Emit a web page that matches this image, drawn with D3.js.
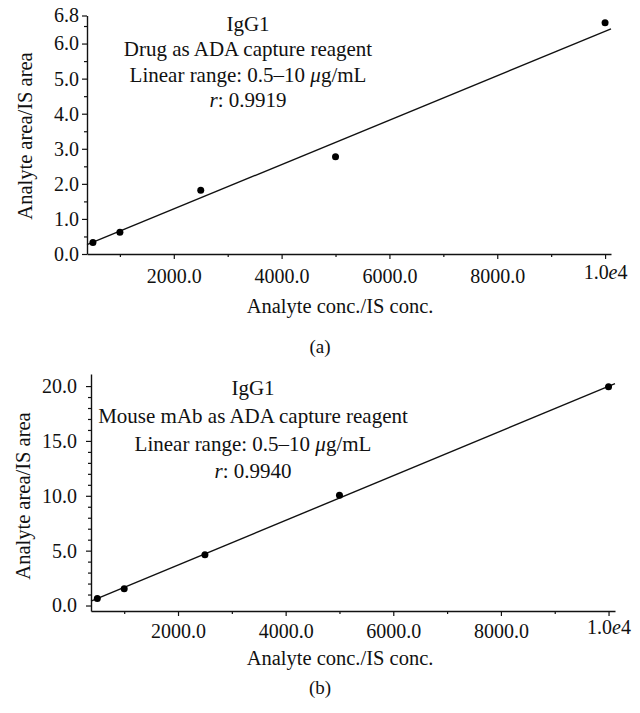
<!DOCTYPE html>
<html>
<head>
<meta charset="utf-8">
<script src="https://cdn.jsdelivr.net/npm/d3@7"></script>
<style>
  html, body { margin: 0; padding: 0; background: #fff; }
  svg text { font-family: "Liberation Serif", "Times New Roman", serif; fill: #111; }
</style>
</head>
<body>
<svg id="chart" width="640" height="713"></svg>
<script>
// ---- data ----
const concA = [500, 1000, 2500, 5000, 10000];
const ratioA = [0.33, 0.62, 1.82, 2.77, 6.59];
const fitA = [0.018, 6.33e-4];          // intercept, slope
const concB = [500, 1000, 2500, 5000, 10000];
const ratioB = [0.64, 1.52, 4.63, 10.05, 19.94];
const fitB = [-0.38, 2.035e-3];         // intercept, slope

const xTicks = [2000, 4000, 6000, 8000, 10000];
const xTickLabels = ["2000.0", "4000.0", "6000.0", "8000.0", "1.0e4"];
const xMinorTicks = [1000, 3000, 5000, 7000, 9000];
const yTicksA = [0, 1, 2, 3, 4, 5, 6, 6.8];
const yTickLabelsA = ["0.0", "1.0", "2.0", "3.0", "4.0", "5.0", "6.0", "6.8"];
const yMinorA = [0.5, 1.5, 2.5, 3.5, 4.5, 5.5, 6.5];
const yTicksB = [0, 5, 10, 15, 20];
const yTickLabelsB = ["0.0", "5.0", "10.0", "15.0", "20.0"];
const yMinorB = [1,2,3,4,6,7,8,9,11,12,13,14,16,17,18,19];

const notesA = ["IgG1", "Drug as ADA capture reagent", "Linear range: 0.5\u201310 \u03bcg/mL", "r: 0.9919"];
const notesB = ["IgG1", "Mouse mAb as ADA capture reagent", "Linear range: 0.5\u201310 \u03bcg/mL", "r: 0.9940"];
const xTitle = "Analyte conc./IS conc.";
const yTitle = "Analyte area/IS area";
const panelLabels = ["(a)", "(b)"];

const svg = d3.select("#chart");

function panel(cfg) {
  const g = svg.append("g");
  const x = d3.scaleLinear().domain(cfg.xDomain).range(cfg.xRange);
  const y = d3.scaleLinear().domain(cfg.yDomain).range(cfg.yRange);
  const axisY = cfg.yRange[0];

  // minor ticks
  g.append("g").attr("transform", `translate(0,${axisY})`)
    .call(d3.axisBottom(x).tickValues(xMinorTicks).tickSize(3).tickFormat(""))
    .call(s => s.select(".domain").remove());
  g.append("g").attr("transform", `translate(${cfg.xRange[0]},0)`)
    .call(d3.axisLeft(y).tickValues(cfg.yMinor).tickSize(3).tickFormat(""))
    .call(s => s.select(".domain").remove());

  // major axes
  const xa = g.append("g").attr("transform", `translate(0,${axisY})`)
    .call(d3.axisBottom(x).tickValues(xTicks).tickSize(5).tickSizeOuter(0).tickPadding(cfg.xPad)
      .tickFormat((d, i) => xTickLabels[i]));
  const ya = g.append("g").attr("transform", `translate(${cfg.xRange[0]},0)`)
    .call(d3.axisLeft(y).tickValues(cfg.yTicks).tickSize(5).tickSizeOuter(0).tickPadding(cfg.yPad)
      .tickFormat((d, i) => cfg.yLabels[i]));
  [xa, ya].forEach(a => {
    a.attr("font-family", null);
    a.selectAll("text").style("font-size", "20px").style("font-family", '"Liberation Serif", serif').attr("fill", "#111");
    a.selectAll("line").attr("stroke", "#111").attr("stroke-width", 1.2);
    a.select(".domain").attr("stroke", "#111").attr("stroke-width", 1.4);
  });
  g.selectAll(".tick line").attr("stroke", "#111").attr("stroke-width", 1.2);
  // italic e in 1.0e4
  xa.selectAll(".tick text").filter(d => d === 10000).each(function () {
    const t = d3.select(this);
    t.text("");
    t.append("tspan").text("1.0");
    t.append("tspan").style("font-style", "italic").text("e");
    t.append("tspan").text("4");
    t.attr("dy", "0.5em");
  });

  // fit line across the x domain
  const xd = x.domain();
  const lineData = xd.map(v => [v, cfg.fit[0] + cfg.fit[1] * v]);
  g.append("path")
    .attr("d", d3.line().x(d => x(d[0])).y(d => y(d[1]))(lineData))
    .attr("fill", "none").attr("stroke", "#111").attr("stroke-width", 1.4);

  // points
  g.selectAll("circle.pt").data(cfg.xs.map((v, i) => [v, cfg.ys[i]])).enter()
    .append("circle").attr("class", "pt")
    .attr("cx", d => x(d[0])).attr("cy", d => y(d[1])).attr("r", 3.5).attr("fill", "#000");

  // annotations
  cfg.notes.forEach((n, i) => {
    const t = g.append("text").attr("x", cfg.noteX).attr("y", cfg.noteY[i])
      .attr("text-anchor", "middle").style("font-size", "21px");
    if (i === 2) {
      t.append("tspan").text("Linear range: 0.5\u201310 ");
      t.append("tspan").style("font-style", "italic").text("\u03bc");
      t.append("tspan").text("g/mL");
    } else if (i === 3) {
      t.append("tspan").style("font-style", "italic").text("r");
      t.append("tspan").text(n.slice(1));
    } else {
      t.text(n);
    }
  });

  // axis titles
  g.append("text").attr("x", cfg.xTitlePos[0]).attr("y", cfg.xTitlePos[1])
    .attr("text-anchor", "middle").style("font-size", "20.5px").text(xTitle);
  g.append("text").attr("transform", `translate(${cfg.yTitlePos[0]},${cfg.yTitlePos[1]}) rotate(-90)`)
    .attr("text-anchor", "middle").attr("dominant-baseline", "central").style("font-size", "20.5px").text(yTitle);
  g.append("text").attr("x", cfg.labelPos[0]).attr("y", cfg.labelPos[1])
    .attr("text-anchor", "middle").style("font-size", "19px").text(cfg.label);
}

panel({
  xs: concA, ys: ratioA, fit: fitA,
  xDomain: [390, 10110], xRange: [87, 611],
  yDomain: [0, 6.8], yRange: [254, 15.5],
  yTicks: yTicksA, yLabels: yTickLabelsA, yMinor: yMinorA, xPad: 10, yPad: 3,
  notes: notesA, noteX: 248, noteY: [31, 56, 82, 107],
  xTitlePos: [340, 313], yTitlePos: [25, 136], labelPos: [320, 353], label: panelLabels[0]
});

panel({
  xs: concB, ys: ratioB, fit: fitB,
  xDomain: [383, 10120], xRange: [91, 615],
  yDomain: [-0.5, 21.1], yRange: [611, 374],
  yTicks: yTicksB, yLabels: yTickLabelsB, yMinor: yMinorB, xPad: 8, yPad: 9,
  notes: notesB, noteX: 253, noteY: [395, 423, 451, 478],
  xTitlePos: [340, 665], yTitlePos: [23, 496], labelPos: [320, 694], label: panelLabels[1]
});
</script>
</body>
</html>
